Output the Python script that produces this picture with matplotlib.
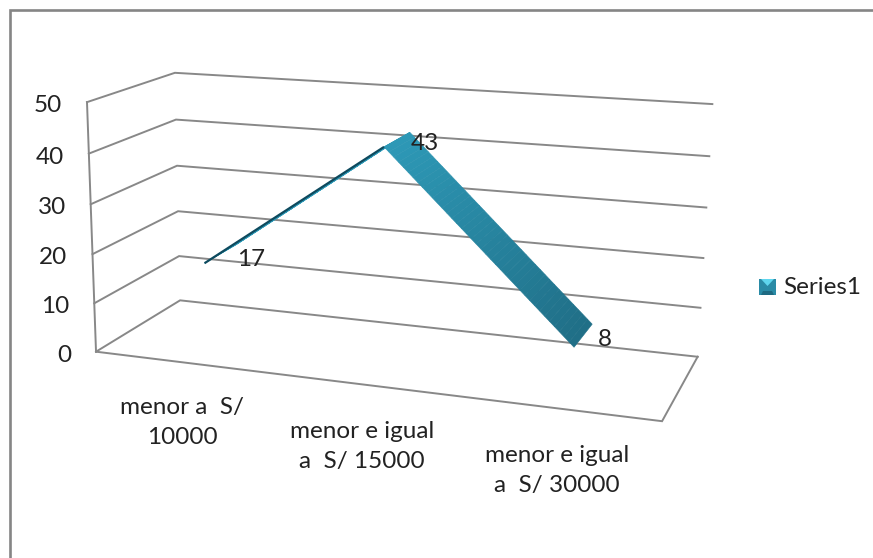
import numpy as np
import matplotlib
matplotlib.use("Agg")
import matplotlib.pyplot as plt
from matplotlib.patches import Polygon

plt.rcParams['font.family'] = ['Lato', 'DejaVu Sans']

categories = ["menor a  S/\n10000", "menor e igual\na  S/ 15000", "menor e igual\na  S/ 30000"]
series_name = "Series1"
values = [17, 43, 8]
value_ticks = [0, 10, 20, 30, 40, 50]
value_max = 50

GRID = "#888888"
TEXT = "#222222"
TOP_COLOR = np.array([0x2E, 0x9B, 0xB9]) / 255
LOW_COLOR = np.array([0x1F, 0x6C, 0x84]) / 255
FONT_SIZE = 17.5

# Box corners (across, height, depth) and where they land on the canvas.
box_world = np.array([(0, 0, 0), (0, 1, 0), (0, 0, 1), (0, 1, 1), (1, 0, 1), (1, 1, 1), (1, 0, 0)], float)
box_canvas = np.array([(98, 352), (85, 102), (178, 300), (177, 73), (698, 357), (712, 104), (662, 421)], float)


def fit_camera(world, canvas):
    rows = []
    for (x, y, z), (px, py) in zip(world, canvas / 1000):
        rows.append([x, y, z, 1, 0, 0, 0, 0, -px * x, -px * y, -px * z, -px])
        rows.append([0, 0, 0, 0, x, y, z, 1, -py * x, -py * y, -py * z, -py])
    return np.linalg.svd(np.array(rows))[2][-1].reshape(3, 4)


CAMERA = fit_camera(box_world, box_canvas)


def project(across, value, depth):
    h = CAMERA @ np.array([across, value / value_max, depth, 1.0])
    return h[:2] / h[2] * 1000


fig = plt.figure(figsize=(8.73, 5.58), dpi=100)
ax = fig.add_axes([0, 0, 1, 1])
ax.set_xlim(0, 873)
ax.set_ylim(558, 0)
ax.axis("off")

# Chart frame: only the top and left edges fall inside the canvas
ax.plot([9.5, 9.5, 873], [558, 9.5, 9.5], color="#858585", lw=1.9, solid_joinstyle="miter")

# Wall gridlines and floor
GRID_LW = 1.4
for tick in value_ticks:
    pts = [project(0, tick, 0), project(0, tick, 1), project(1, tick, 1)]
    ax.plot(*zip(*pts), color=GRID, lw=GRID_LW, solid_joinstyle="miter")
floor = [project(0, 0, 0), project(1, 0, 0), project(1, 0, 1)]
ax.plot(*zip(*floor), color=GRID, lw=GRID_LW, solid_joinstyle="miter")
ax.plot(*zip(project(0, 0, 0), project(0, value_max, 0)), color=GRID, lw=GRID_LW)

# Value axis labels
for tick in value_ticks:
    px, py = project(0, tick, 0)
    ax.text(px - 25, py + 3.5, str(tick), ha="right", va="center", fontsize=FONT_SIZE, color=TEXT)

# Ribbon running through the three category centres
n = len(values)
centres = [(i + 0.5) / n for i in range(n)]
DEPTH_FRONT, DEPTH_BACK = 0.3, 0.7


def ribbon_colour(y):
    t = np.clip((y - 130) / (345 - 130), 0, 1)
    return TOP_COLOR * (1 - t) + LOW_COLOR * t


for i in range(n - 1):
    for t0, t1 in zip(np.linspace(0, 1, 40)[:-1], np.linspace(0, 1, 40)[1:]):
        a0 = centres[i] + (centres[i + 1] - centres[i]) * t0
        a1 = centres[i] + (centres[i + 1] - centres[i]) * t1
        v0 = values[i] + (values[i + 1] - values[i]) * t0
        v1 = values[i] + (values[i + 1] - values[i]) * t1
        quad = [project(a0, v0, DEPTH_FRONT), project(a1, v1, DEPTH_FRONT),
                project(a1, v1, DEPTH_BACK), project(a0, v0, DEPTH_BACK)]
        col = ribbon_colour(np.mean([q[1] for q in quad]))
        if i == 0:
            col = TOP_COLOR
        ax.add_patch(Polygon(quad, closed=True, fc=col, ec=col, lw=0.4, zorder=3))

# Underside of the rising stretch, seen nearly edge-on
under = [project(centres[0], values[0], DEPTH_FRONT), project(centres[1], values[1], DEPTH_FRONT)]
ax.plot(*zip(*under), color="#0E4A5E", lw=1.6, zorder=4, solid_capstyle="butt")

# Point labels
label_offsets = [(47, -4), (41, -3), (31, -8)]
for c, v, (dx, dy) in zip(centres, values, label_offsets):
    px, py = project(c, v, DEPTH_FRONT)
    ax.text(px + dx, py + dy, str(v), ha="center", va="center", fontsize=FONT_SIZE, color=TEXT, zorder=5)

# Category labels, placed below the floor's front edge
cat_offsets = [(1, 60.5), (0, 62), (-0.5, 62)]
for c, label, (dx, dy) in zip(centres, categories, cat_offsets):
    px, py = project(c, 0, 0)
    ax.text(px + dx, py + dy, label, ha="center", va="center", fontsize=FONT_SIZE, color=TEXT, linespacing=1.54, multialignment="center")

# Legend key with a bevelled face
x0, x1, y0, y1 = 759, 776, 279, 295
ax.add_patch(Polygon([(x0, y0), (x1, y0), (x1, y1), (x0, y1)], fc="#2A8BA6", ec="none"))
ax.add_patch(Polygon([(x0 + 2, y0), (x1 - 2, y0), ((x0 + x1) / 2, y0 + 7)], fc="#5FD6EE", ec="none"))
ax.add_patch(Polygon([(x0 + 2, y1), (x1 - 2, y1), (x1 - 4, y1 - 4), (x0 + 4, y1 - 4)], fc="#1E6A82", ec="none"))
ax.text(783, 287, series_name, ha="left", va="center", fontsize=FONT_SIZE, color=TEXT)

fig.savefig("out.png", dpi=100)
